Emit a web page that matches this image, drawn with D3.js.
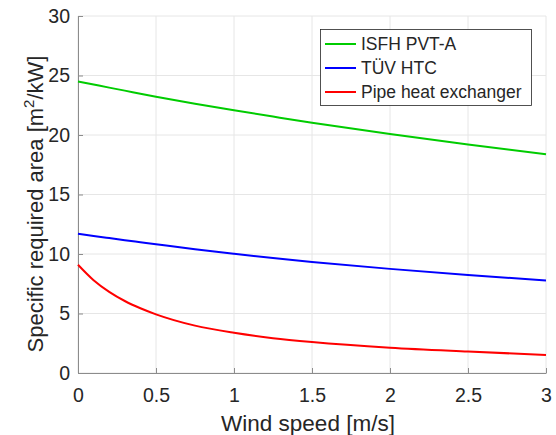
<html>
<head>
<meta charset="UTF-8">
<script src="https://cdn.jsdelivr.net/npm/d3@7"></script>
<style>
  body { margin: 0; background: #fff; }
  text { font-family: "Liberation Sans", Arial, sans-serif; fill: #262626; }
</style>
</head>
<body>
<svg id="chart" width="556" height="435"></svg>
<script>
// data
const windX = [0, 0.1, 0.2, 0.3, 0.4, 0.5, 0.75, 1, 1.25, 1.5, 2, 2.5, 3];
const isfh = [24.5, 24.24, 23.98, 23.73, 23.47, 23.22, 22.63, 22.08, 21.55, 21.03, 20.08, 19.2, 18.38];
const tuev = [11.7, 11.52, 11.34, 11.16, 10.99, 10.82, 10.4, 10.02, 9.66, 9.33, 8.75, 8.23, 7.77];
const pipe = [9.1, 7.8, 6.82, 6.05, 5.44, 4.93, 3.98, 3.38, 2.93, 2.6, 2.12, 1.8, 1.52];
const xTicks = [0, 0.5, 1, 1.5, 2, 2.5, 3];
const yTicks = [0, 5, 10, 15, 20, 25, 30];
const seriesNames = ["ISFH PVT-A", "TÜV HTC", "Pipe heat exchanger"];
const seriesColors = ["#00cc00", "#0000ff", "#ff0000"];

const svg = d3.select("#chart");
const pLeft = 78, pRight = 546, pTop = 16, pBottom = 373;

const x = d3.scaleLinear().domain([0, 3]).range([pLeft, pRight]);
const y = d3.scaleLinear().domain([0, 30]).range([pBottom, pTop]);

// grid
svg.append("g").selectAll("line.gx").data(xTicks).enter().append("line")
  .attr("x1", d => x(d)).attr("x2", d => x(d)).attr("y1", pTop).attr("y2", pBottom)
  .attr("stroke", "#e6e6e6").attr("stroke-width", 1);
svg.append("g").selectAll("line.gy").data(yTicks).enter().append("line")
  .attr("x1", pLeft).attr("x2", pRight).attr("y1", d => y(d)).attr("y2", d => y(d))
  .attr("stroke", "#e6e6e6").attr("stroke-width", 1);

// axes
const xAxis = svg.append("g").attr("transform", "translate(0," + pBottom + ")")
  .call(d3.axisBottom(x).tickValues(xTicks).tickSizeInner(-5).tickSizeOuter(0).tickPadding(15)
    .tickFormat(d3.format("")));
const yAxis = svg.append("g").attr("transform", "translate(" + pLeft + ",0)")
  .call(d3.axisLeft(y).tickValues(yTicks).tickSizeInner(-5).tickSizeOuter(0).tickPadding(8));
[xAxis, yAxis].forEach(a => {
  a.select(".domain").attr("stroke", "#8c8c8c");
  a.selectAll(".tick line").attr("stroke", "#8c8c8c");
  a.selectAll(".tick text").attr("font-size", 19.5).attr("fill", "#262626")
    .style("font-family", "'Liberation Sans', Arial, sans-serif");
});

// lines
const allSeries = [isfh, tuev, pipe];
const line = d3.line().x((d, i) => x(windX[i])).y(d => y(d)).curve(d3.curveMonotoneX);
svg.append("g").selectAll("path").data(allSeries).enter().append("path")
  .attr("d", d => line(d))
  .attr("fill", "none")
  .attr("stroke", (d, i) => seriesColors[i])
  .attr("stroke-width", 2);

// axis labels
svg.append("text").attr("x", (pLeft + pRight) / 2 - 4).attr("y", 431)
  .attr("text-anchor", "middle").attr("font-size", 22.5).text("Wind speed [m/s]");
const yl = svg.append("text").attr("transform", "translate(43,204) rotate(-90)")
  .attr("text-anchor", "middle").attr("font-size", 22);
yl.append("tspan").text("Specific required area [m");
yl.append("tspan").attr("font-size", 15).attr("dy", -9).text("2");
yl.append("tspan").attr("dy", 9).text("/kW]");

// legend
const lg = svg.append("g");
lg.append("rect").attr("x", 320.5).attr("y", 29.5).attr("width", 211).attr("height", 76)
  .attr("fill", "#fff").attr("stroke", "#262626").attr("stroke-width", 0.8);
const items = lg.selectAll("g.item").data(seriesNames).enter().append("g")
  .attr("transform", (d, i) => "translate(0," + (44 + i * 24) + ")");
items.append("line").attr("x1", 325).attr("x2", 356).attr("y1", 0).attr("y2", 0)
  .attr("stroke", (d, i) => seriesColors[i]).attr("stroke-width", 2);
items.append("text").attr("x", 361).attr("y", 6).attr("font-size", 17.5).text(d => d);
</script>
</body>
</html>
